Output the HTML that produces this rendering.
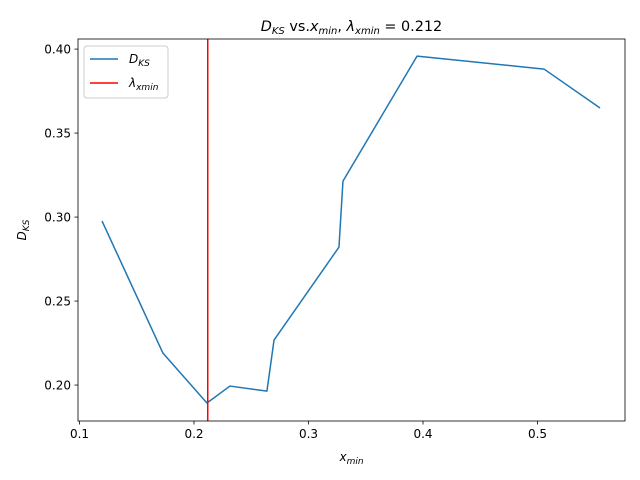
<!DOCTYPE html>
<html><head><meta charset="utf-8"><style>
body{margin:0;background:#fff}
svg{display:block;font-family:"DejaVu Sans","Liberation Sans",sans-serif}
</style></head><body>
<svg id="chart" width="640" height="480">
<rect width="640" height="480" fill="#fff"/>
<g id="plot"></g>
</svg>
<script>
const xVals=[0.1197,0.1729,0.2113,0.2314,0.2637,0.2699,0.3266,0.3301,0.3948,0.5057,0.5546];
const yVals=[0.2976,0.2190,0.1893,0.1994,0.1964,0.2268,0.2821,0.3214,0.3958,0.3881,0.3649];
const xminLine=0.212;
const xTicks=[0.1,0.2,0.3,0.4,0.5];
const xTickLabels=["0.1","0.2","0.3","0.4","0.5"];
const yTicks=[0.20,0.25,0.30,0.35,0.40];
const yTickLabels=["0.20","0.25","0.30","0.35","0.40"];

const L=78,R=625,T=39,B=421;
const XD=[0.0987,0.5764],YD=[0.1786,0.406];
const sx=v=>L+(v-XD[0])/(XD[1]-XD[0])*(R-L);
const sy=v=>B-(v-YD[0])/(YD[1]-YD[0])*(B-T);
const NS="http://www.w3.org/2000/svg";
const g=document.getElementById('plot');
function mk(t,a,txt){const e=document.createElementNS(NS,t);for(const k in a)e.setAttribute(k,a[k]);if(txt!==undefined)e.innerHTML=txt;g.appendChild(e);return e;}

xTicks.forEach((v,i)=>{
 const t=mk('line',{x1:sx(v),x2:sx(v),y1:B,y2:B+3.5,stroke:'#000','stroke-width':0.8});
 
 
 const l=mk('text',{x:sx(v),y:B+17,'font-size':12,'text-anchor':'middle'},xTickLabels[i]);
 
 
});
yTicks.forEach((v,i)=>{
 const t=mk('line',{x1:L-3.5,x2:L,y1:sy(v),y2:sy(v),stroke:'#000','stroke-width':0.8});
 
 
 const l=mk('text',{x:L-7,y:sy(v)+4.5,'font-size':12,'text-anchor':'end'},yTickLabels[i]);
 
 
});

const line=mk('polyline',{points:xVals.map((x,i)=>sx(x)+','+sy(yVals[i])).join(' '),fill:'none',stroke:'#1f77b4','stroke-width':1.5,'stroke-linejoin':'round'});


const vl=mk('line',{x1:sx(xminLine),x2:sx(xminLine),y1:T,y2:B,stroke:'red','stroke-width':1.5});



const frame=mk('rect',{x:L,y:T,width:R-L,height:B-T,fill:'none',stroke:'#000','stroke-width':0.8});



const title=mk('text',{x:(L+R)/2,y:31,'font-size':14.4,'text-anchor':'middle'},'<tspan font-style="italic">D</tspan><tspan font-style="italic" font-size="10" dy="3">KS</tspan><tspan dy="-3"> vs.</tspan><tspan font-style="italic">x</tspan><tspan font-style="italic" font-size="10" dy="3">min</tspan><tspan dy="-3">, </tspan><tspan font-style="italic">λ</tspan><tspan font-style="italic" font-size="10" dy="3">xmin</tspan><tspan dy="-3"> = 0.212</tspan>');


const xl=mk('text',{x:(L+R)/2,y:461,'font-size':12,'text-anchor':'middle'},'<tspan font-style="italic">x</tspan><tspan font-style="italic" font-size="9" dy="3">min</tspan>');


const yl=mk('text',{x:0,y:0,'font-size':12,'text-anchor':'middle',transform:'translate(26,'+((T+B)/2)+') rotate(-90)'},'<tspan font-style="italic">D</tspan><tspan font-style="italic" font-size="9" dy="3">KS</tspan>');



const lg=mk('rect',{x:84,y:46,width:84,height:52,rx:3,fill:'#fff',stroke:'#ccc','stroke-width':1});


const l1=mk('line',{x1:90,x2:118,y1:59,y2:59,stroke:'#1f77b4','stroke-width':1.5});


const t1=mk('text',{x:129,y:63,'font-size':12},'<tspan font-style="italic">D</tspan><tspan font-style="italic" font-size="9" dy="3">KS</tspan>');


const l2=mk('line',{x1:90,x2:118,y1:83,y2:83,stroke:'red','stroke-width':1.5});


const t2=mk('text',{x:129,y:87,'font-size':12},'<tspan font-style="italic">λ</tspan><tspan font-style="italic" font-size="9" dy="3">xmin</tspan>');


</script>
</body></html>
